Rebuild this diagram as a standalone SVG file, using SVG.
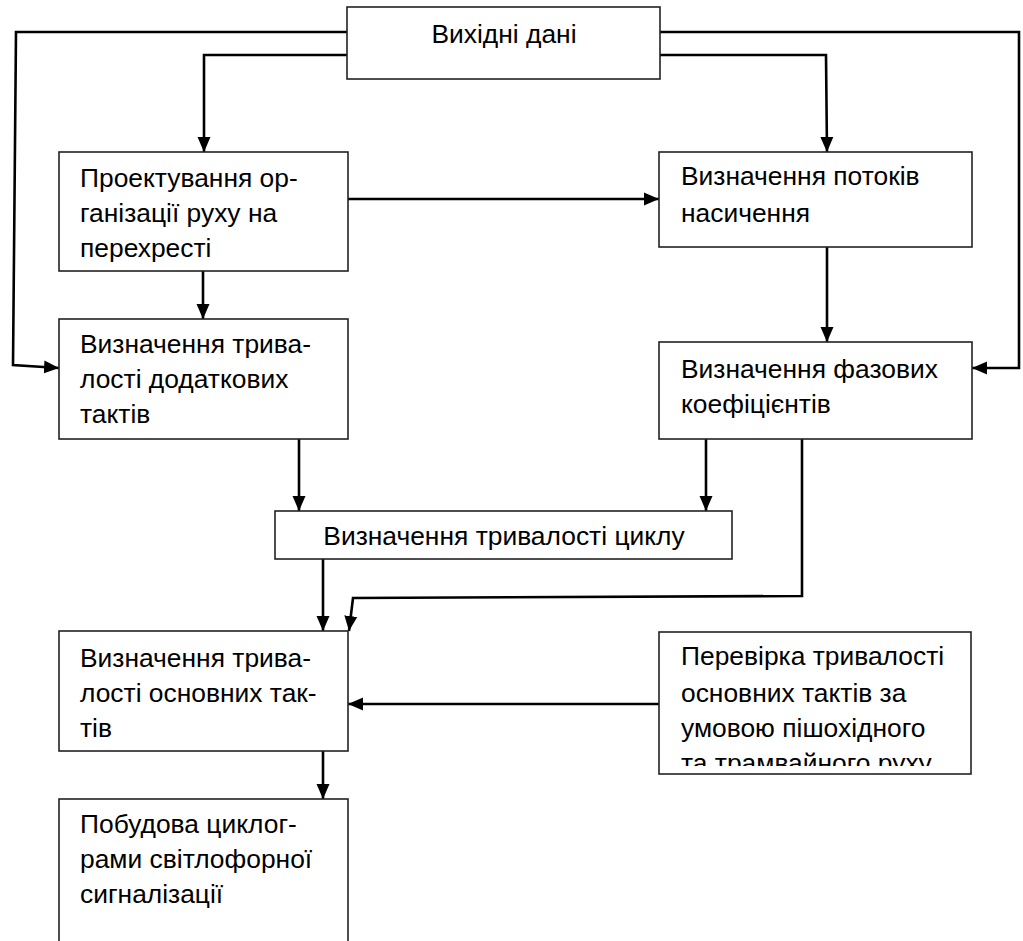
<svg xmlns="http://www.w3.org/2000/svg" width="1023" height="941" viewBox="0 0 1023 941">
<style>
.box{fill:#fff;stroke:#222;stroke-width:1.6}
.t{font-family:"Liberation Sans",Arial,sans-serif;font-size:26.4px;fill:#000}
.c{fill:none;stroke:#000;stroke-width:2.6}
</style>
<defs>
<marker id="ah" markerWidth="15" markerHeight="14" viewBox="0 0 15 14" refX="15" refY="7" orient="auto" markerUnits="userSpaceOnUse">
<path d="M0,0.5 L15,7 L0,13.5 Z" fill="#000"/>
</marker>
<clipPath id="clip6"><rect x="659" y="632" width="312" height="134"/></clipPath>
</defs>
<g id="connectors">
<path class="c" d="M347,32 H16 L13,365 L59,368" marker-end="url(#ah)"/>
<path class="c" d="M660,32 H1019 V368 H972" marker-end="url(#ah)"/>
<path class="c" d="M347,55 H204 V152" marker-end="url(#ah)"/>
<path class="c" d="M660,55 H826 L827,152" marker-end="url(#ah)"/>
<path class="c" d="M348,199 H659" marker-end="url(#ah)"/>
<path class="c" d="M203,271 V319" marker-end="url(#ah)"/>
<path class="c" d="M827,247 V342" marker-end="url(#ah)"/>
<path class="c" d="M299,439 V511" marker-end="url(#ah)"/>
<path class="c" d="M706,439 V511" marker-end="url(#ah)"/>
<path class="c" d="M323,559 V631" marker-end="url(#ah)"/>
<path class="c" d="M802,439 V596 L353,598 L349,631" marker-end="url(#ah)"/>
<path class="c" d="M659,704 H348" marker-end="url(#ah)"/>
<path class="c" d="M323,751 V799" marker-end="url(#ah)"/>
</g>
<g id="n0">
<rect class="box" x="347" y="7" width="313" height="72"/>
<text class="t" x="504" y="43" text-anchor="middle">Вихідні дані</text>
</g>
<g id="n1">
<rect class="box" x="59" y="152" width="289" height="119"/>
<text class="t" x="80" y="187">Проектування ор-</text>
<text class="t" x="80" y="222">ганізації руху на</text>
<text class="t" x="80" y="257">перехресті</text>
</g>
<g id="n2">
<rect class="box" x="659" y="152" width="313" height="95"/>
<text class="t" x="681" y="185">Визначення потоків</text>
<text class="t" x="681" y="222">насичення</text>
</g>
<g id="n3">
<rect class="box" x="59" y="319" width="289" height="120"/>
<text class="t" x="80" y="353">Визначення трива-</text>
<text class="t" x="80" y="388">лості додаткових</text>
<text class="t" x="80" y="423">тактів</text>
</g>
<g id="n4">
<rect class="box" x="659" y="342" width="313" height="97"/>
<text class="t" x="681" y="378">Визначення фазових</text>
<text class="t" x="681" y="413">коефіцієнтів</text>
</g>
<g id="n5">
<rect class="box" x="275" y="511" width="457" height="48"/>
<text class="t" x="504" y="545" text-anchor="middle">Визначення тривалості циклу</text>
</g>
<g id="n6">
<rect class="box" x="59" y="631" width="289" height="120"/>
<text class="t" x="80" y="667">Визначення трива-</text>
<text class="t" x="80" y="702">лості основних так-</text>
<text class="t" x="80" y="737">тів</text>
</g>
<g id="n7">
<rect class="box" x="659" y="632" width="312" height="142"/>
<g clip-path="url(#clip6)">
<text class="t" x="681" y="665">Перевірка тривалості</text>
<text class="t" x="681" y="702">основних тактів за</text>
<text class="t" x="681" y="737">умовою пішохідного</text>
<text class="t" x="681" y="772">та трамвайного руху</text>
</g>
</g>
<g id="n8">
<rect class="box" x="59" y="799" width="289" height="160"/>
<text class="t" x="80" y="833">Побудова циклог-</text>
<text class="t" x="80" y="868">рами світлофорної</text>
<text class="t" x="80" y="903">сигналізації</text>
</g>
</svg>
